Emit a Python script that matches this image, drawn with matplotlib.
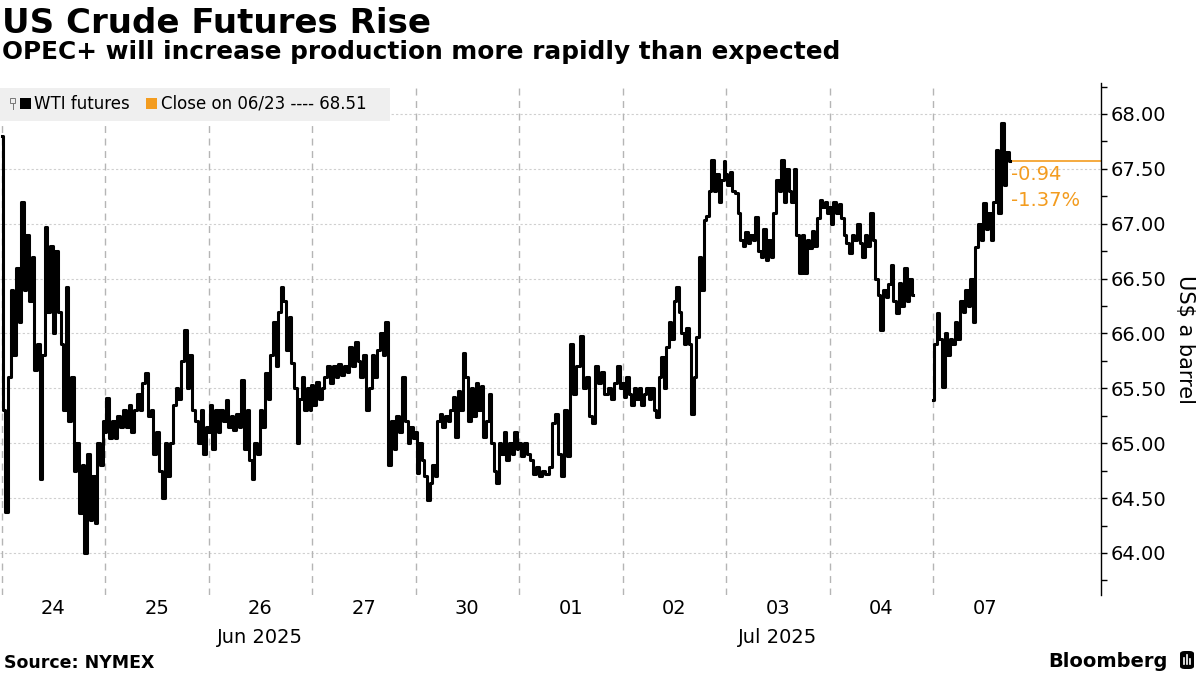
import numpy as np
import matplotlib
matplotlib.use('Agg')
import matplotlib.pyplot as plt
from matplotlib.patches import Rectangle, FancyBboxPatch
import matplotlib.transforms as mtransforms

# ---------------- data ----------------
day_labels = ['24', '25', '26', '27', '30', '01', '02', '03', '04', '07']
month_labels = ['Jun 2025', 'Jul 2025']
month_label_days = ['26', '03']
# fraction of each day's slot covered by trading data
session_fraction = [0.99, 0.99, 0.99, 0.99, 0.99, 0.99, 0.99, 0.99, 0.807, 0.744]

wti_24 = [67.8, 65.3, 64.37, 65.6, 66.4, 65.8, 66.6, 66.1, 67.2, 66.4, 66.9, 66.3, 66.7,
          65.67, 65.9, 64.67, 65.8, 66.97, 66.2, 66.8, 66.0, 66.75, 66.2, 65.9, 65.3, 66.42,
          65.2, 65.6, 64.75, 65.0, 64.36, 64.8, 64.0, 64.9, 64.3, 64.7, 64.27, 65.0, 64.8, 65.2]
wti_25 = [65.1, 65.41, 65.05, 65.2, 65.05, 65.25, 65.15, 65.3, 65.15, 65.35, 65.1, 65.3, 65.45,
          65.3, 65.55, 65.64, 65.25, 65.3, 64.9, 65.1, 64.75, 64.5, 65.0, 64.7, 65.0, 65.35,
          65.5, 65.4, 65.75, 66.03, 65.5, 65.8, 65.3, 65.2, 65.0, 65.3, 64.9, 65.15]
wti_26 = [65.1, 65.35, 64.95, 65.3, 65.1, 65.3, 65.2, 65.39, 65.15, 65.25, 65.12, 65.27, 65.15,
          65.58, 64.95, 65.3, 64.85, 64.67, 65.0, 64.9, 65.3, 65.15, 65.64, 65.4, 65.8, 66.1,
          65.7, 66.2, 66.42, 66.3, 65.85, 66.15, 65.73, 65.5, 65.0, 65.4, 65.6, 65.3, 65.5, 65.3]
wti_27 = [65.53, 65.35, 65.56, 65.4, 65.5, 65.6, 65.7, 65.55, 65.7, 65.6, 65.72, 65.62, 65.7,
          65.65, 65.88, 65.7, 65.92, 65.75, 65.6, 65.8, 65.3, 65.5, 65.8, 65.6, 65.85, 66.0,
          65.8, 66.1, 64.8, 65.2, 64.95, 65.25, 65.1, 65.6, 65.2, 65.0, 65.15, 65.05]
wti_30 = [65.1, 64.73, 65.0, 64.85, 64.7, 64.48, 64.64, 64.8, 64.7, 65.2, 65.27, 65.15, 65.25,
          65.2, 65.3, 65.42, 65.06, 65.48, 65.3, 65.82, 65.6, 65.2, 65.5, 65.25, 65.55, 65.3,
          65.52, 65.06, 65.2, 65.45, 65.0, 64.75, 64.64, 65.0, 64.9, 65.1, 64.85, 65.0, 64.9,
          65.1, 64.95]
wti_01 = [65.0, 64.88, 65.0, 64.9, 64.85, 64.72, 64.78, 64.7, 64.75, 64.72, 64.78, 65.18, 65.27,
          64.9, 64.7, 65.3, 64.88, 65.9, 65.45, 65.7, 65.98, 65.5, 65.6, 65.25, 65.18, 65.7,
          65.55, 65.65, 65.45, 65.5, 65.4, 65.55, 65.7, 65.5]
wti_02 = [65.55, 65.42, 65.6, 65.45, 65.35, 65.5, 65.4, 65.5, 65.35, 65.45, 65.5, 65.4, 65.5,
          65.3, 65.24, 65.6, 65.79, 65.5, 65.88, 66.1, 65.95, 66.3, 66.42, 66.2, 66.0, 65.9,
          66.05, 65.9, 65.27, 65.6, 65.97, 66.7, 66.4, 67.03, 67.07, 67.3, 67.58, 67.3, 67.45,
          67.2, 67.4, 67.57]
wti_03 = [67.45, 67.35, 67.47, 67.3, 67.28, 67.1, 66.85, 66.8, 66.92, 66.82, 66.9, 66.85, 67.06,
          66.75, 66.7, 66.95, 66.67, 66.85, 66.7, 67.1, 67.4, 67.3, 67.58, 67.2, 67.5, 67.3,
          67.2, 67.5, 66.9, 66.55, 66.9, 66.55, 66.85, 66.78, 66.93, 66.8, 67.05, 67.22, 67.15,
          67.2, 67.1]
wti_04 = [67.15, 67.0, 67.2, 67.1, 67.18, 67.05, 66.9, 66.82, 66.73, 66.9, 66.85, 67.0, 66.82,
          66.7, 66.9, 66.8, 67.1, 66.85, 66.5, 66.35, 66.03, 66.4, 66.33, 66.45, 66.62, 66.3,
          66.19, 66.46, 66.25, 66.6, 66.3, 66.5, 66.35]
wti_07 = [65.39, 65.9, 66.19, 65.95, 65.51, 66.0, 65.8, 65.95, 65.9, 66.1, 65.95, 66.3, 66.2,
          66.4, 66.25, 66.5, 66.1, 66.79, 67.0, 66.85, 67.19, 66.95, 67.1, 66.85, 67.2, 67.67,
          67.1, 67.92, 67.35, 67.65, 67.57]

wti_days = [wti_24, wti_25, wti_26, wti_27, wti_30, wti_01, wti_02, wti_03, wti_04, wti_07]

prev_close_label = 'Close on 06/23 ---- 68.51'
last_price = 67.57
change_abs = '-0.94'
change_pct = '-1.37%'

y_major = [64.0, 64.5, 65.0, 65.5, 66.0, 66.5, 67.0, 67.5, 68.0]

# ---------------- styling ----------------
W, H = 1200, 675
ORANGE = '#f39c1f'
plt.rcParams['font.family'] = ['DejaVu Sans']


def fx(px):
    return px / W


def fy(py):
    return 1 - py / H


fig = plt.figure(figsize=(12, 6.75), dpi=100)
fig.patch.set_facecolor('white')
ax_left, ax_right, ax_top, ax_bottom = 0, 1101, 83, 595
ax = fig.add_axes([fx(ax_left), fy(ax_bottom), (ax_right - ax_left) / W, (ax_bottom - ax_top) / H])

ax.set_xlim(-0.0145, 10.623)
ax.set_ylim(63.617, 68.282)

# grid
for yv in y_major:
    ax.axhline(yv, color='#cfcfcf', lw=0.8, ls=(0, (2, 2)), zorder=1)
for i in range(len(day_labels)):
    ax.axvline(i, color='#b5b5b5', lw=1.0, ls=(0, (5, 4)), zorder=1)

# series
xs_main, ys_main = [], []
for i, vals in enumerate(wti_days[:-1]):
    t = i + np.linspace(0, session_fraction[i], len(vals))
    xs_main.extend(t)
    ys_main.extend(vals)
ax.plot(xs_main, ys_main, color='black', lw=2.2, drawstyle='steps-mid', zorder=3)

i_last = len(wti_days) - 1
t_last = i_last + np.linspace(0, session_fraction[i_last], len(wti_days[i_last]))
ax.plot(t_last, wti_days[i_last], color='black', lw=2.2, drawstyle='steps-mid', zorder=3)

# last-price marker line and change annotations
x_end = t_last[-1]
ax.hlines(last_price, x_end, ax.get_xlim()[1], color=ORANGE, lw=1.2, zorder=2, clip_on=False)
ax.annotate(change_abs, xy=(x_end, last_price), xytext=(1, -13.5), textcoords='offset points',
            color=ORANGE, fontsize=14, ha='left', va='baseline')
ax.annotate(change_pct, xy=(x_end, last_price), xytext=(1, -32.5), textcoords='offset points',
            color=ORANGE, fontsize=14, ha='left', va='baseline')

# axes / ticks
for s in ['left', 'top', 'bottom']:
    ax.spines[s].set_visible(False)
ax.spines['right'].set_color('black')
ax.spines['right'].set_linewidth(1.0)
ax.yaxis.tick_right()
ax.set_yticks(y_major)
ax.set_yticklabels(['%.2f' % v for v in y_major])
ax.set_yticks(np.arange(63.75, 68.3, 0.5), minor=True)
ax.tick_params(axis='y', which='both', length=4, width=1, color='black', direction='out',
               labelsize=14, pad=3)
ax.set_xticks([i + 0.5 for i in range(len(day_labels))])
ax.set_xticklabels(day_labels)
ax.tick_params(axis='x', which='both', length=0, labelsize=14, pad=3)

trans = mtransforms.blended_transform_factory(ax.transData, fig.transFigure)
for lab, d in zip(month_labels, month_label_days):
    ax.text(day_labels.index(d) + 0.5, fy(643), lab, transform=trans, ha='center',
            va='baseline', fontsize=14)

fig.text(fx(1185), fy(340), 'US$ a barrel', rotation=270, ha='center', va='center', fontsize=15)

# titles
fig.text(fx(2), fy(33), 'US Crude Futures Rise', fontsize=24.5, fontweight='bold', va='baseline')
fig.text(fx(2), fy(59), 'OPEC+ will increase production more rapidly than expected',
         fontsize=17.8, fontweight='bold', va='baseline')

# legend
fig.patches.append(Rectangle((fx(0), fy(121)), fx(390), 33 / H, transform=fig.transFigure,
                             facecolor='#efefef', edgecolor='none', zorder=0.5))
fig.patches.append(Rectangle((fx(10), fy(103)), 5 / W, 5 / H, transform=fig.transFigure,
                             facecolor='none', edgecolor='#777777', lw=0.7))
fig.lines.append(plt.Line2D([fx(12.5), fx(12.5)], [fy(103), fy(109)], transform=fig.transFigure,
                            color='#777777', lw=0.7))
fig.patches.append(Rectangle((fx(20), fy(109)), 11 / W, 11 / H, transform=fig.transFigure,
                             facecolor='black', edgecolor='none'))
fig.text(fx(34), fy(109), 'WTI futures', fontsize=12, va='baseline')
fig.patches.append(Rectangle((fx(146), fy(109)), 11 / W, 11 / H, transform=fig.transFigure,
                             facecolor=ORANGE, edgecolor='none'))
fig.text(fx(161), fy(109), prev_close_label, fontsize=12, va='baseline')

# footer
fig.text(fx(4), fy(668), 'Source: NYMEX', fontsize=12.5, fontweight='bold', va='baseline')
fig.text(fx(1168), fy(667), 'Bloomberg', fontsize=14, fontweight='bold', va='baseline', ha='right')
fig.patches.append(FancyBboxPatch((fx(1180), fy(669)), 14 / W, 18 / H, transform=fig.transFigure,
                                  boxstyle='round,pad=0,rounding_size=0.004',
                                  facecolor='black', edgecolor='none'))
for bx, bh in [(1184, 6), (1187, 9), (1190, 5)]:
    fig.lines.append(plt.Line2D([fx(bx), fx(bx)], [fy(664), fy(664 - bh)],
                                transform=fig.transFigure, color='white', lw=1.2))

fig.savefig('out.png', dpi=100)
